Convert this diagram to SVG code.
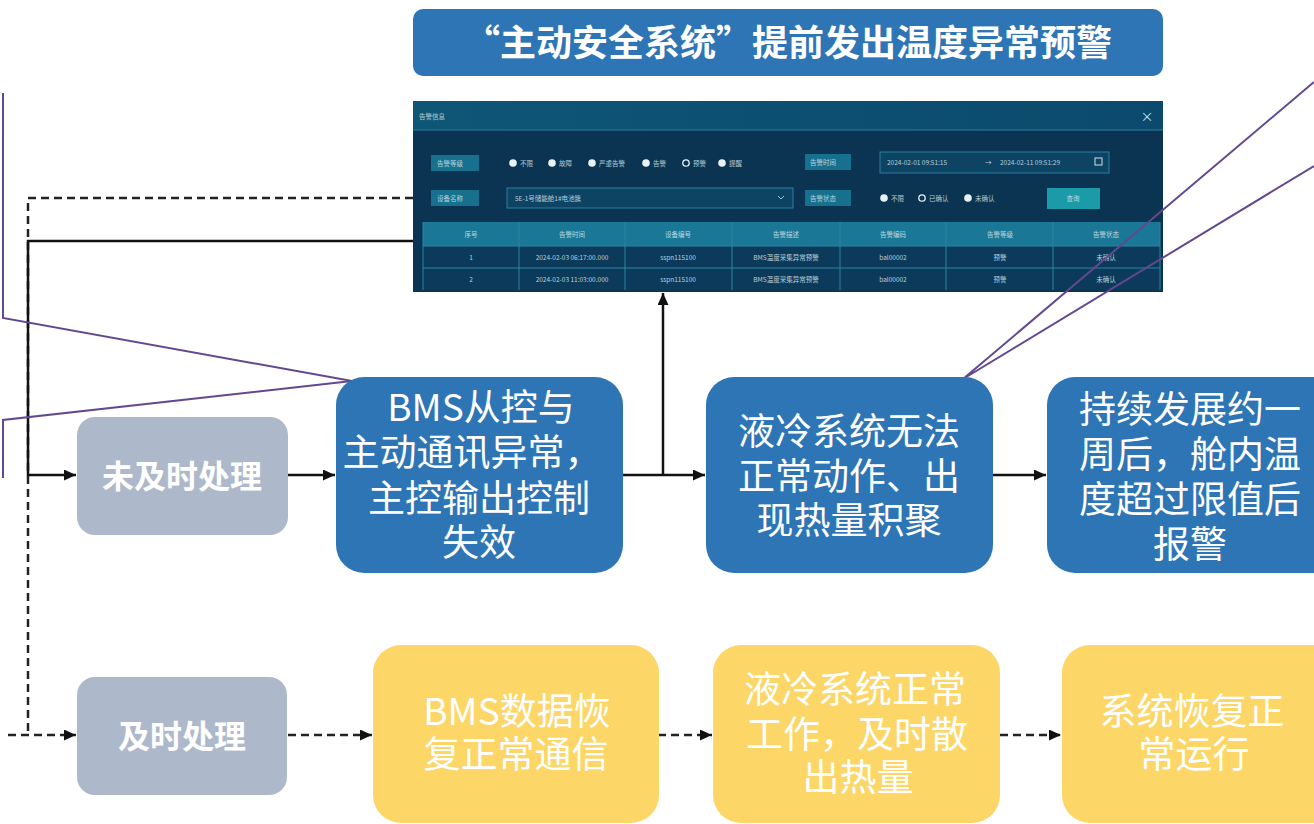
<svg xmlns="http://www.w3.org/2000/svg" width="1314" height="824" viewBox="0 0 1314 824">
<style>
.cjk{font-family:"Noto Sans CJK SC","Noto Sans",sans-serif}
.nt{font-family:"Noto Sans CJK SC","Noto Sans",sans-serif;font-size:37px;fill:#fff;text-anchor:middle}
.gt{font-family:"Noto Sans CJK SC","Noto Sans",sans-serif;font-size:32px;font-weight:bold;fill:#fff;text-anchor:middle}
.blue{fill:#2e75b6}
.gray{fill:#adb9ca}
.yel{fill:#fdd668}
.sol{stroke:#111;stroke-width:2.5;fill:none}
.dash{stroke:#222;stroke-width:2.5;fill:none;stroke-dasharray:8 5}
.pur{stroke:#64488f;stroke-width:2;fill:none}
.ui{font-family:"Noto Sans CJK SC","Noto Sans",sans-serif;font-size:6.5px;fill:#cfe0ea;opacity:.85}
.uic{font-family:"Noto Sans CJK SC","Noto Sans",sans-serif;font-size:6.5px;fill:#d6e6ee;text-anchor:middle;opacity:.85}
.lbl{fill:#17708e}
.rad{fill:#e8f2f6}
</style>
<defs>
<marker id="ah" markerUnits="userSpaceOnUse" markerWidth="13" markerHeight="12" refX="12" refY="5.5" orient="auto">
<path d="M0,0 L12,5.5 L0,11 z" fill="#111"/>
</marker>
<linearGradient id="hdr" x1="0" y1="0" x2="1" y2="0">
<stop offset="0" stop-color="#0e5676"/><stop offset="1" stop-color="#0b4a6c"/>
</linearGradient>
</defs>

<g id="title">
<rect x="413" y="9" width="750" height="67" rx="10" class="blue"/>
<text x="788" y="56" class="cjk" font-size="36" font-weight="bold" fill="#fff" text-anchor="middle">“主动安全系统”提前发出温度异常预警</text>
</g>

<g id="screenshot">
<rect x="413" y="101" width="750" height="191" fill="#0b3452"/>
<rect x="413" y="101" width="750" height="29" fill="url(#hdr)"/>
<line x1="413" y1="130" x2="1163" y2="130" stroke="#2b7f9e" stroke-width="1"/>
<text x="419" y="119" class="ui" font-size="7">告警信息</text>
<text x="1147" y="121" class="cjk" font-size="13" fill="#cfe0ea" text-anchor="middle">×</text>
<rect x="431" y="155" width="48" height="16" class="lbl"/>
<text x="437" y="166" class="ui">告警等级</text>
<circle cx="513" cy="163" r="3.8" class="rad"/><text x="520" y="166" class="ui">不限</text>
<circle cx="552" cy="163" r="3.8" class="rad"/><text x="559" y="166" class="ui">故障</text>
<circle cx="592" cy="163" r="3.8" class="rad"/><text x="599" y="166" class="ui">严重告警</text>
<circle cx="646" cy="163" r="3.8" class="rad"/><text x="653" y="166" class="ui">告警</text>
<circle cx="686" cy="163" r="3.2" fill="none" stroke="#e8f2f6" stroke-width="1.3"/><text x="693" y="166" class="ui">预警</text>
<circle cx="722" cy="163" r="3.8" class="rad"/><text x="729" y="166" class="ui">提醒</text>
<rect x="805" y="154" width="46" height="16" class="lbl"/>
<text x="810" y="165" class="ui">告警时间</text>
<rect x="880" y="152" width="229" height="21" fill="#0d4464" stroke="#2c7fa0" stroke-width="1"/>
<text x="887" y="165" class="ui">2024-02-01 09:51:15</text>
<text x="985" y="165" class="ui">→</text>
<text x="1000" y="165" class="ui">2024-02-11 09:51:29</text>
<rect x="1095" y="158" width="7" height="7" fill="none" stroke="#cfe0ea" stroke-width="1"/>
<rect x="431" y="190" width="48" height="16" class="lbl"/>
<text x="437" y="201" class="ui">设备名称</text>
<rect x="507" y="188" width="286" height="20" fill="#0d4464" stroke="#2c7fa0" stroke-width="1"/>
<text x="515" y="201" class="ui">5E-1号储能舱1#电池簇</text>
<path d="M778,196 L781,199 L784,196" fill="none" stroke="#9fc0cf" stroke-width="1"/>
<rect x="805" y="190" width="46" height="16" class="lbl"/>
<text x="810" y="201" class="ui">告警状态</text>
<circle cx="884" cy="198" r="3.8" class="rad"/><text x="891" y="201" class="ui">不限</text>
<circle cx="922" cy="198" r="3.2" fill="none" stroke="#e8f2f6" stroke-width="1.3"/><text x="929" y="201" class="ui">已确认</text>
<circle cx="968" cy="198" r="3.8" class="rad"/><text x="975" y="201" class="ui">未确认</text>
<rect x="1047" y="188" width="53" height="21" fill="#1a9ba7"/>
<text x="1073" y="201" class="uic">查询</text>
<rect x="423" y="222" width="737" height="24" fill="#1a7896"/>
<rect x="423" y="246" width="737" height="44" fill="#0b3a5a"/>
<line x1="423" y1="268" x2="1160" y2="268" stroke="#2a86a2" stroke-width="1"/>
<line x1="423" y1="246" x2="1160" y2="246" stroke="#2a86a2" stroke-width="1"/>
<g stroke="#2a86a2" stroke-width="1">
<line x1="423" y1="222" x2="423" y2="290"/>
<line x1="519" y1="222" x2="519" y2="290"/>
<line x1="625" y1="222" x2="625" y2="290"/>
<line x1="732" y1="222" x2="732" y2="290"/>
<line x1="840" y1="222" x2="840" y2="290"/>
<line x1="946" y1="222" x2="946" y2="290"/>
<line x1="1053" y1="222" x2="1053" y2="290"/>
<line x1="1160" y1="222" x2="1160" y2="290"/>
</g>
<text x="471" y="237" class="uic">序号</text>
<text x="572" y="237" class="uic">告警时间</text>
<text x="678" y="237" class="uic">设备编号</text>
<text x="786" y="237" class="uic">告警描述</text>
<text x="893" y="237" class="uic">告警编码</text>
<text x="1000" y="237" class="uic">告警等级</text>
<text x="1106" y="237" class="uic">告警状态</text>
<text x="471" y="260" class="uic">1</text>
<text x="572" y="260" class="uic">2024-02-03 06:17:00.000</text>
<text x="678" y="260" class="uic">sspn115100</text>
<text x="786" y="260" class="uic">BMS温度采集异常预警</text>
<text x="893" y="260" class="uic">bal00002</text>
<text x="1000" y="260" class="uic">预警</text>
<text x="1106" y="260" class="uic">未确认</text>
<text x="471" y="282" class="uic">2</text>
<text x="572" y="282" class="uic">2024-02-03 11:03:00.000</text>
<text x="678" y="282" class="uic">sspn115100</text>
<text x="786" y="282" class="uic">BMS温度采集异常预警</text>
<text x="893" y="282" class="uic">bal00002</text>
<text x="1000" y="282" class="uic">预警</text>
<text x="1106" y="282" class="uic">未确认</text>
</g>

<g id="connectors">
<path class="dash" d="M413,198 H28 V735"/>
<path class="dash" d="M8,735 H76" marker-end="url(#ah)"/>
<path class="sol" d="M413,241 H28 V475 H76" marker-end="url(#ah)"/>
<path class="sol" d="M288,475 H335" marker-end="url(#ah)"/>
<path class="sol" d="M622,475 H705" marker-end="url(#ah)"/>
<path class="sol" d="M663,475 V293" marker-end="url(#ah)"/>
<path class="sol" d="M992,475 H1046" marker-end="url(#ah)"/>
<path class="dash" d="M288,735 H372" marker-end="url(#ah)"/>
<path class="dash" d="M658,735 H712" marker-end="url(#ah)"/>
<path class="dash" d="M1000,735 H1061" marker-end="url(#ah)"/>
<path class="pur" d="M3,93 V318 L352,381 L3,420 V478"/>
<path class="pur" d="M1314,82 L963,379 L1314,166"/>
</g>

<g id="n-untimely">
<rect x="77" y="417" width="211" height="118" rx="18" class="gray"/>
<text x="182" y="488" class="gt">未及时处理</text>
</g>
<g id="n-timely">
<rect x="77" y="677" width="210" height="118" rx="18" class="gray"/>
<text x="182" y="748" class="gt">及时处理</text>
</g>

<g id="n-bms">
<rect x="336" y="377" width="287" height="196" rx="28" class="blue"/>
<text class="nt"><tspan x="481" y="421">BMS从控与</tspan><tspan x="472" y="466">主动通讯异常，</tspan><tspan x="479" y="512">主控输出控制</tspan><tspan x="479" y="556">失效</tspan></text>
</g>
<g id="n-cool-fail">
<rect x="706" y="377" width="287" height="196" rx="28" class="blue"/>
<text class="nt"><tspan x="849" y="445">液冷系统无法</tspan><tspan x="849" y="490">正常动作、出</tspan><tspan x="849" y="534">现热量积聚</tspan></text>
</g>
<g id="n-alarm">
<rect x="1047" y="377" width="300" height="196" rx="28" class="blue"/>
<text class="nt"><tspan x="1190" y="423">持续发展约一</tspan><tspan x="1190" y="468">周后，舱内温</tspan><tspan x="1190" y="513">度超过限值后</tspan><tspan x="1190" y="558">报警</tspan></text>
</g>

<g id="n-bms-ok">
<rect x="373" y="645" width="286" height="178" rx="28" class="yel"/>
<text class="nt"><tspan x="517" y="725">BMS数据恢</tspan><tspan x="516" y="768">复正常通信</tspan></text>
</g>
<g id="n-cool-ok">
<rect x="713" y="645" width="287" height="178" rx="28" class="yel"/>
<text class="nt"><tspan x="855" y="703">液冷系统正常</tspan><tspan x="857" y="748">工作，及时散</tspan><tspan x="858" y="791">出热量</tspan></text>
</g>
<g id="n-recover">
<rect x="1062" y="645" width="290" height="178" rx="28" class="yel"/>
<text class="nt"><tspan x="1192" y="725">系统恢复正</tspan><tspan x="1194" y="768">常运行</tspan></text>
</g>
</svg>
